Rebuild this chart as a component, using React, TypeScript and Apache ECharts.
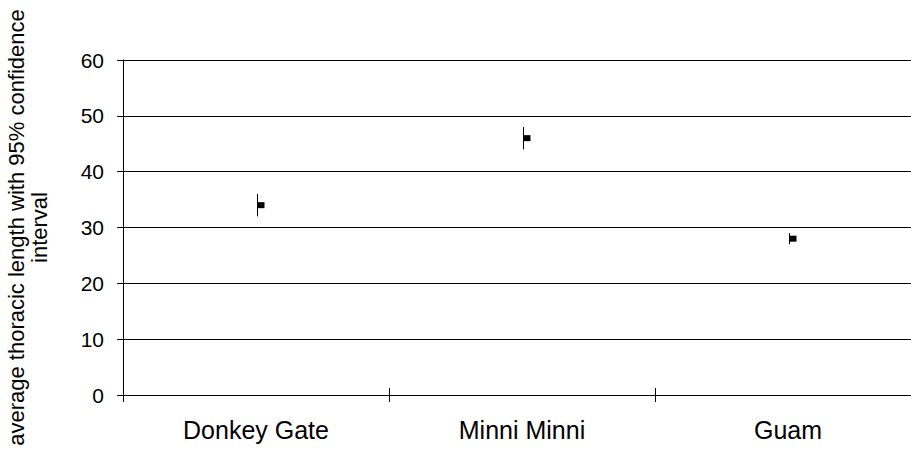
import React, { useEffect, useRef } from "react";
import * as echarts from "echarts";

const categories = ["Donkey Gate", "Minni Minni", "Guam"];
const means = [34, 46, 28];
const lows = [32, 44, 27];
const highs = [36, 48, 29];
const yTicks = [0, 10, 20, 30, 40, 50, 60];

const FONT = "'Liberation Sans', Arial, sans-serif";

export default function App() {
  const ref = useRef<HTMLDivElement>(null);
  useEffect(() => {
    if (!ref.current) return;
    const chart = echarts.init(ref.current, undefined, { renderer: "svg" });
    const data = categories.map((_, i) => [i, means[i], lows[i], highs[i]]);
    chart.setOption({
      animation: false,
      backgroundColor: "#fff",
      grid: { left: 123, top: 60, bottom: 55, width: 798, outerBoundsMode: "none", containLabel: false },
      xAxis: [
        {
          type: "category",
          data: categories,
          boundaryGap: true,
          axisLine: { show: true, lineStyle: { color: "#000", width: 1 } },
          axisTick: { show: true, length: 7, inside: false, lineStyle: { color: "#000" } },
          axisLabel: { color: "#000", fontSize: 25, fontFamily: FONT, margin: 22 },
          splitLine: { show: false },
        },
        {
          type: "category",
          data: categories,
          position: "bottom",
          boundaryGap: true,
          axisLine: { show: false },
          axisTick: { show: true, length: 7, inside: true, lineStyle: { color: "#000" } },
          axisLabel: { show: false },
          splitLine: { show: false },
        },
      ],
      yAxis: {
        type: "value",
        min: yTicks[0],
        max: yTicks[yTicks.length - 1],
        interval: 10,
        name: "average thoracic length with 95% confidence\ninterval",
        nameLocation: "middle",
        nameGap: 72,
        nameRotate: 90,
        nameTextStyle: { color: "#000", fontSize: 22, fontFamily: FONT, lineHeight: 23, align: "center" },
        axisLine: { show: true, lineStyle: { color: "#000", width: 1 } },
        axisTick: { show: true, length: 6, inside: false, lineStyle: { color: "#000" } },
        axisLabel: { color: "#000", fontSize: 21, fontFamily: FONT, margin: 19 },
        splitLine: { show: true, lineStyle: { color: "#000", width: 1 } },
      },
      series: [
        {
          type: "custom",
          data,
          renderItem: (params: any, api: any) => {
            const idx = api.value(0);
            const c = api.coord([idx, api.value(1)]);
            const lo = api.coord([idx, api.value(2)]);
            const hi = api.coord([idx, api.value(3)]);
            const x = Math.round(c[0]) + 1.5;
            return {
              type: "group",
              children: [
                {
                  type: "line",
                  shape: { x1: x, y1: lo[1], x2: x, y2: hi[1] },
                  style: { stroke: "#000", lineWidth: 1 },
                },
                {
                  type: "rect",
                  shape: { x: x, y: c[1] - 3, width: 7, height: 6 },
                  style: { fill: "#000" },
                },
              ],
            };
          },
        },
      ],
    });
    return () => chart.dispose();
  }, []);
  return <div ref={ref} style={{ width: 911, height: 450, position: "absolute", left: 0, top: 0 }} />;
}
